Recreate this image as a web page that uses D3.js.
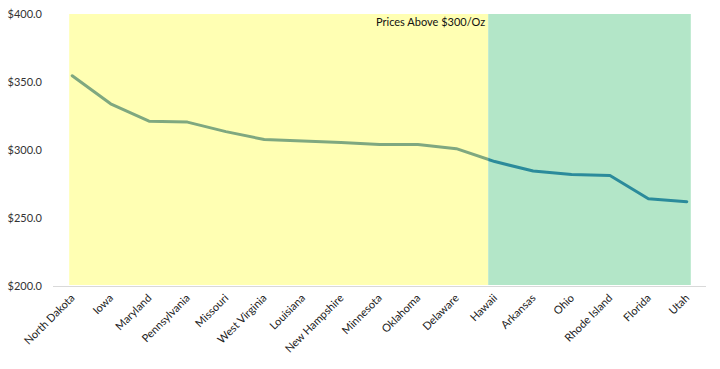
<!DOCTYPE html>
<html>
<head>
<meta charset="utf-8">
<script src="https://cdn.jsdelivr.net/npm/d3@7"></script>
<style>
  html, body { margin: 0; padding: 0; background: #fff; }
  svg text { font-family: Lato, "Open Sans", "Liberation Sans", sans-serif; }
</style>
</head>
<body>
<svg id="chart" width="720" height="369"></svg>
<script>
const states = ["North Dakota", "Iowa", "Maryland", "Pennsylvania", "Missouri", "West Virginia",
  "Louisiana", "New Hampshire", "Minnesota", "Oklahoma", "Delaware", "Hawaii", "Arkansas",
  "Ohio", "Rhode Island", "Florida", "Utah"];
const prices = [354.6, 334.0, 321.2, 320.5, 313.5, 307.7, 306.6, 305.5, 304.0, 304.0, 301.0,
  291.5, 284.5, 282.0, 281.3, 264.2, 262.0];
const yTicks = [200, 250, 300, 350, 400];
const regionLabels = ["Prices Above $300/Oz", ""];
const regionFrom = ["North Dakota", "Hawaii"];
const regionTo = ["Hawaii", "Utah"];

(function () {
const svg = d3.select("#chart");
const mLeft = 53, mRight = 706, mTop = 14, mBottom = 286;

const x = d3.scalePoint().domain(states).range([mLeft, mRight]).padding(0.5);
const y = d3.scaleLinear().domain([200, 400]).range([mBottom, mTop]);
const step = x.step();

const fills = ["#ffffb3", "#b3e6c8"];
const lineColors = ["#7fa880", "#2b8b9b"];

const regions = regionFrom.map((f, i) => {
  const x0 = i === 0 ? x(f) - 3 : x(f) - step * 0.17;
  const x1 = i === regionFrom.length - 1 ? x(regionTo[i]) + 4 : x(regionTo[i]) - step * 0.17;
  return { x0, x1, label: regionLabels[i], fill: fills[i], line: lineColors[i] };
});

const defs = svg.append("defs");
regions.forEach((r, i) => {
  defs.append("clipPath").attr("id", "clip" + i)
    .append("rect").attr("x", r.x0).attr("y", 0).attr("width", r.x1 - r.x0).attr("height", 369);
});

svg.append("g").selectAll("rect").data(regions).join("rect")
  .attr("x", d => d.x0).attr("y", y(400))
  .attr("width", d => d.x1 - d.x0).attr("height", y(200) - y(400) - 1)
  .attr("fill", d => d.fill);

svg.append("g").selectAll("text").data(regions.filter(r => r.label)).join("text")
  .attr("x", d => d.x1 - 3).attr("y", y(400) + 12)
  .attr("text-anchor", "end").attr("font-size", 11).attr("fill", "#111")
  .text(d => d.label);

svg.append("line").attr("x1", mLeft).attr("x2", mRight)
  .attr("y1", y(200) + 0.5).attr("y2", y(200) + 0.5)
  .attr("stroke", "#d9d9d9").attr("stroke-width", 1);

const yAxis = d3.axisLeft(y).tickValues(yTicks).tickSize(0).tickPadding(0)
  .tickFormat(d => "$" + d3.format(".1f")(d));
const gy = svg.append("g").attr("transform", `translate(${mLeft - 11},0)`).call(yAxis);
gy.select(".domain").remove();
gy.selectAll("text").attr("font-size", 11).attr("fill", "#333")
  .style("font-family", "Lato, 'Open Sans', sans-serif");

const xAxis = d3.axisBottom(x).tickSize(0).tickPadding(0);
const gx = svg.append("g").attr("transform", `translate(0,${y(200) + 8})`).call(xAxis);
gx.select(".domain").remove();
gx.selectAll("text").attr("font-size", 11).attr("fill", "#222")
  .style("font-family", "Lato, 'Open Sans', sans-serif")
  .attr("text-anchor", "end").attr("dy", "0.35em")
  .attr("transform", "translate(0,2) rotate(-45)");

const line = d3.line().x((d, i) => x(states[i])).y(d => y(d));
regions.forEach((r, i) => {
  svg.append("path").datum(prices)
    .attr("d", line).attr("fill", "none")
    .attr("stroke", r.line).attr("stroke-width", 3)
    .attr("stroke-linejoin", "round").attr("stroke-linecap", "round")
    .attr("clip-path", `url(#clip${i})`);
});
})();
</script>
</body>
</html>
